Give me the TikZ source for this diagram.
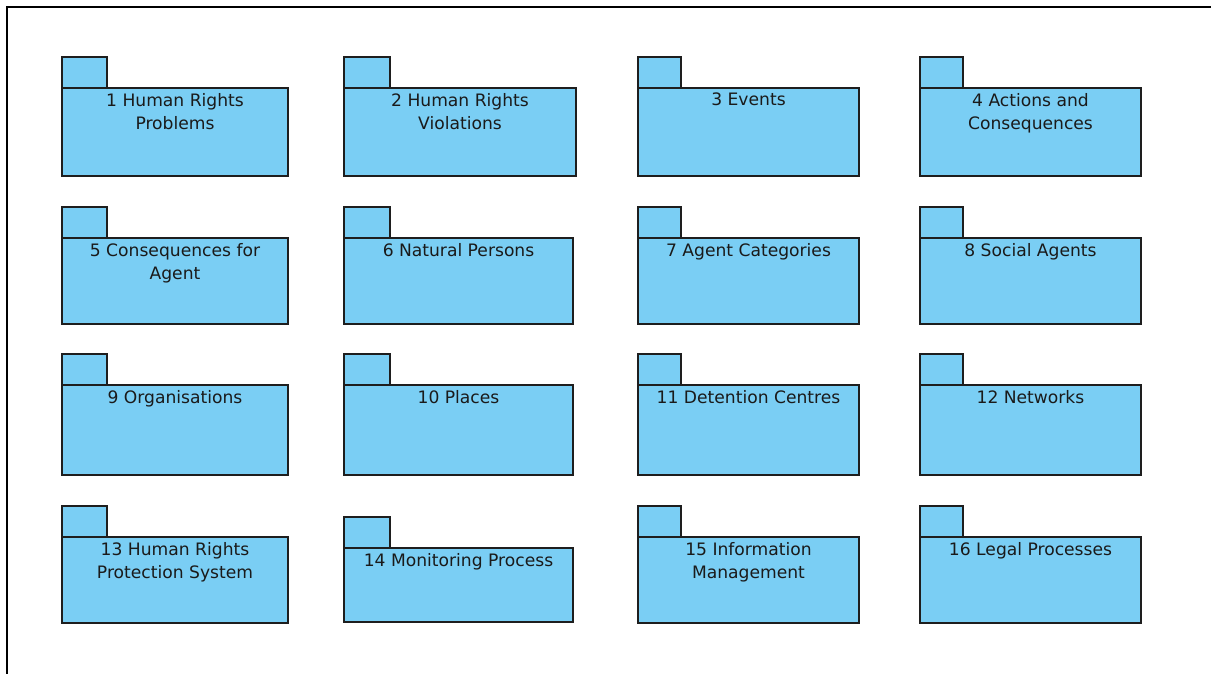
\documentclass[tikz,border=0pt]{standalone}
\usepackage{fontspec}
\setmainfont{DejaVu Sans}
\usepackage{tikz}
\usetikzlibrary{arrows,shapes,positioning}
\definecolor{pkgblue}{HTML}{7ACEF4}
\definecolor{pkgline}{HTML}{1E1E1E}
\definecolor{pkgtext}{HTML}{1A1A1A}

\begin{document}
\begin{tikzpicture}[
  pkg/.style={draw=pkgline,line width=1.3bp,fill=pkgblue,rectangle,inner sep=0,outer sep=0},
  tab/.style={pkg,anchor=south west,minimum height=31bp},
  lbl/.style={anchor=north,yshift=-5bp,inner sep=0,align=center,text=pkgtext,font=\fontsize{17.2}{23}\selectfont}]
\useasboundingbox (0bp,0bp) rectangle (1211bp,-674bp);
\draw [line width=2bp] (7bp,-674bp) -- (7bp,-7bp) -- (1211bp,-7bp);
% row 1
\node (P1) at (175bp,-132bp)[pkg,minimum width=226bp,minimum height=88bp,label={[lbl]north:{1 Human Rights\\Problems}}] {};
\node (T1) at (P1.north west)[tab,minimum width=45bp] {};
\node (P2) at (460bp,-132bp)[pkg,minimum width=232bp,minimum height=88bp,label={[lbl]north:{2 Human Rights\\Violations}}] {};
\node (T2) at (P2.north west)[tab,minimum width=46bp] {};
\node (P3) at (748.5bp,-132bp)[pkg,minimum width=221bp,minimum height=88bp,label={[lbl]north:{3 Events}}] {};
\node (T3) at (P3.north west)[tab,minimum width=43bp] {};
\node (P4) at (1030.5bp,-132bp)[pkg,minimum width=221bp,minimum height=88bp,label={[lbl]north:{4 Actions and\\Consequences}}] {};
\node (T4) at (P4.north west)[tab,minimum width=43bp] {};
% row 2
\node (P5) at (175bp,-281bp)[pkg,minimum width=226bp,minimum height=86bp,label={[lbl]north:{5 Consequences for\\Agent}}] {};
\node (T5) at (P5.north west)[tab,minimum width=45bp] {};
\node (P6) at (458.5bp,-281bp)[pkg,minimum width=229bp,minimum height=86bp,label={[lbl]north:{6 Natural Persons}}] {};
\node (T6) at (P6.north west)[tab,minimum width=46bp] {};
\node (P7) at (748.5bp,-281bp)[pkg,minimum width=221bp,minimum height=86bp,label={[lbl]north:{7 Agent Categories}}] {};
\node (T7) at (P7.north west)[tab,minimum width=43bp] {};
\node (P8) at (1030.5bp,-281bp)[pkg,minimum width=221bp,minimum height=86bp,label={[lbl]north:{8 Social Agents}}] {};
\node (T8) at (P8.north west)[tab,minimum width=43bp] {};
% row 3
\node (P9) at (175bp,-430bp)[pkg,minimum width=226bp,minimum height=90bp,label={[lbl]north:{9 Organisations}}] {};
\node (T9) at (P9.north west)[tab,minimum width=45bp] {};
\node (P10) at (458.5bp,-430bp)[pkg,minimum width=229bp,minimum height=90bp,label={[lbl]north:{10 Places}}] {};
\node (T10) at (P10.north west)[tab,minimum width=46bp] {};
\node (P11) at (748.5bp,-430bp)[pkg,minimum width=221bp,minimum height=90bp,label={[lbl]north:{11 Detention Centres}}] {};
\node (T11) at (P11.north west)[tab,minimum width=43bp] {};
\node (P12) at (1030.5bp,-430bp)[pkg,minimum width=221bp,minimum height=90bp,label={[lbl]north:{12 Networks}}] {};
\node (T12) at (P12.north west)[tab,minimum width=43bp] {};
% row 4
\node (P13) at (175bp,-580bp)[pkg,minimum width=226bp,minimum height=86bp,label={[lbl]north:{13 Human Rights\\Protection System}}] {};
\node (T13) at (P13.north west)[tab,minimum width=45bp] {};
\node (P14) at (458.5bp,-585bp)[pkg,minimum width=229bp,minimum height=74bp,label={[lbl]north:{14 Monitoring Process}}] {};
\node (T14) at (P14.north west)[tab,minimum width=46bp] {};
\node (P15) at (748.5bp,-580bp)[pkg,minimum width=221bp,minimum height=86bp,label={[lbl]north:{15 Information\\Management}}] {};
\node (T15) at (P15.north west)[tab,minimum width=43bp] {};
\node (P16) at (1030.5bp,-580bp)[pkg,minimum width=221bp,minimum height=86bp,label={[lbl]north:{16 Legal Processes}}] {};
\node (T16) at (P16.north west)[tab,minimum width=43bp] {};
\end{tikzpicture}
\end{document}
